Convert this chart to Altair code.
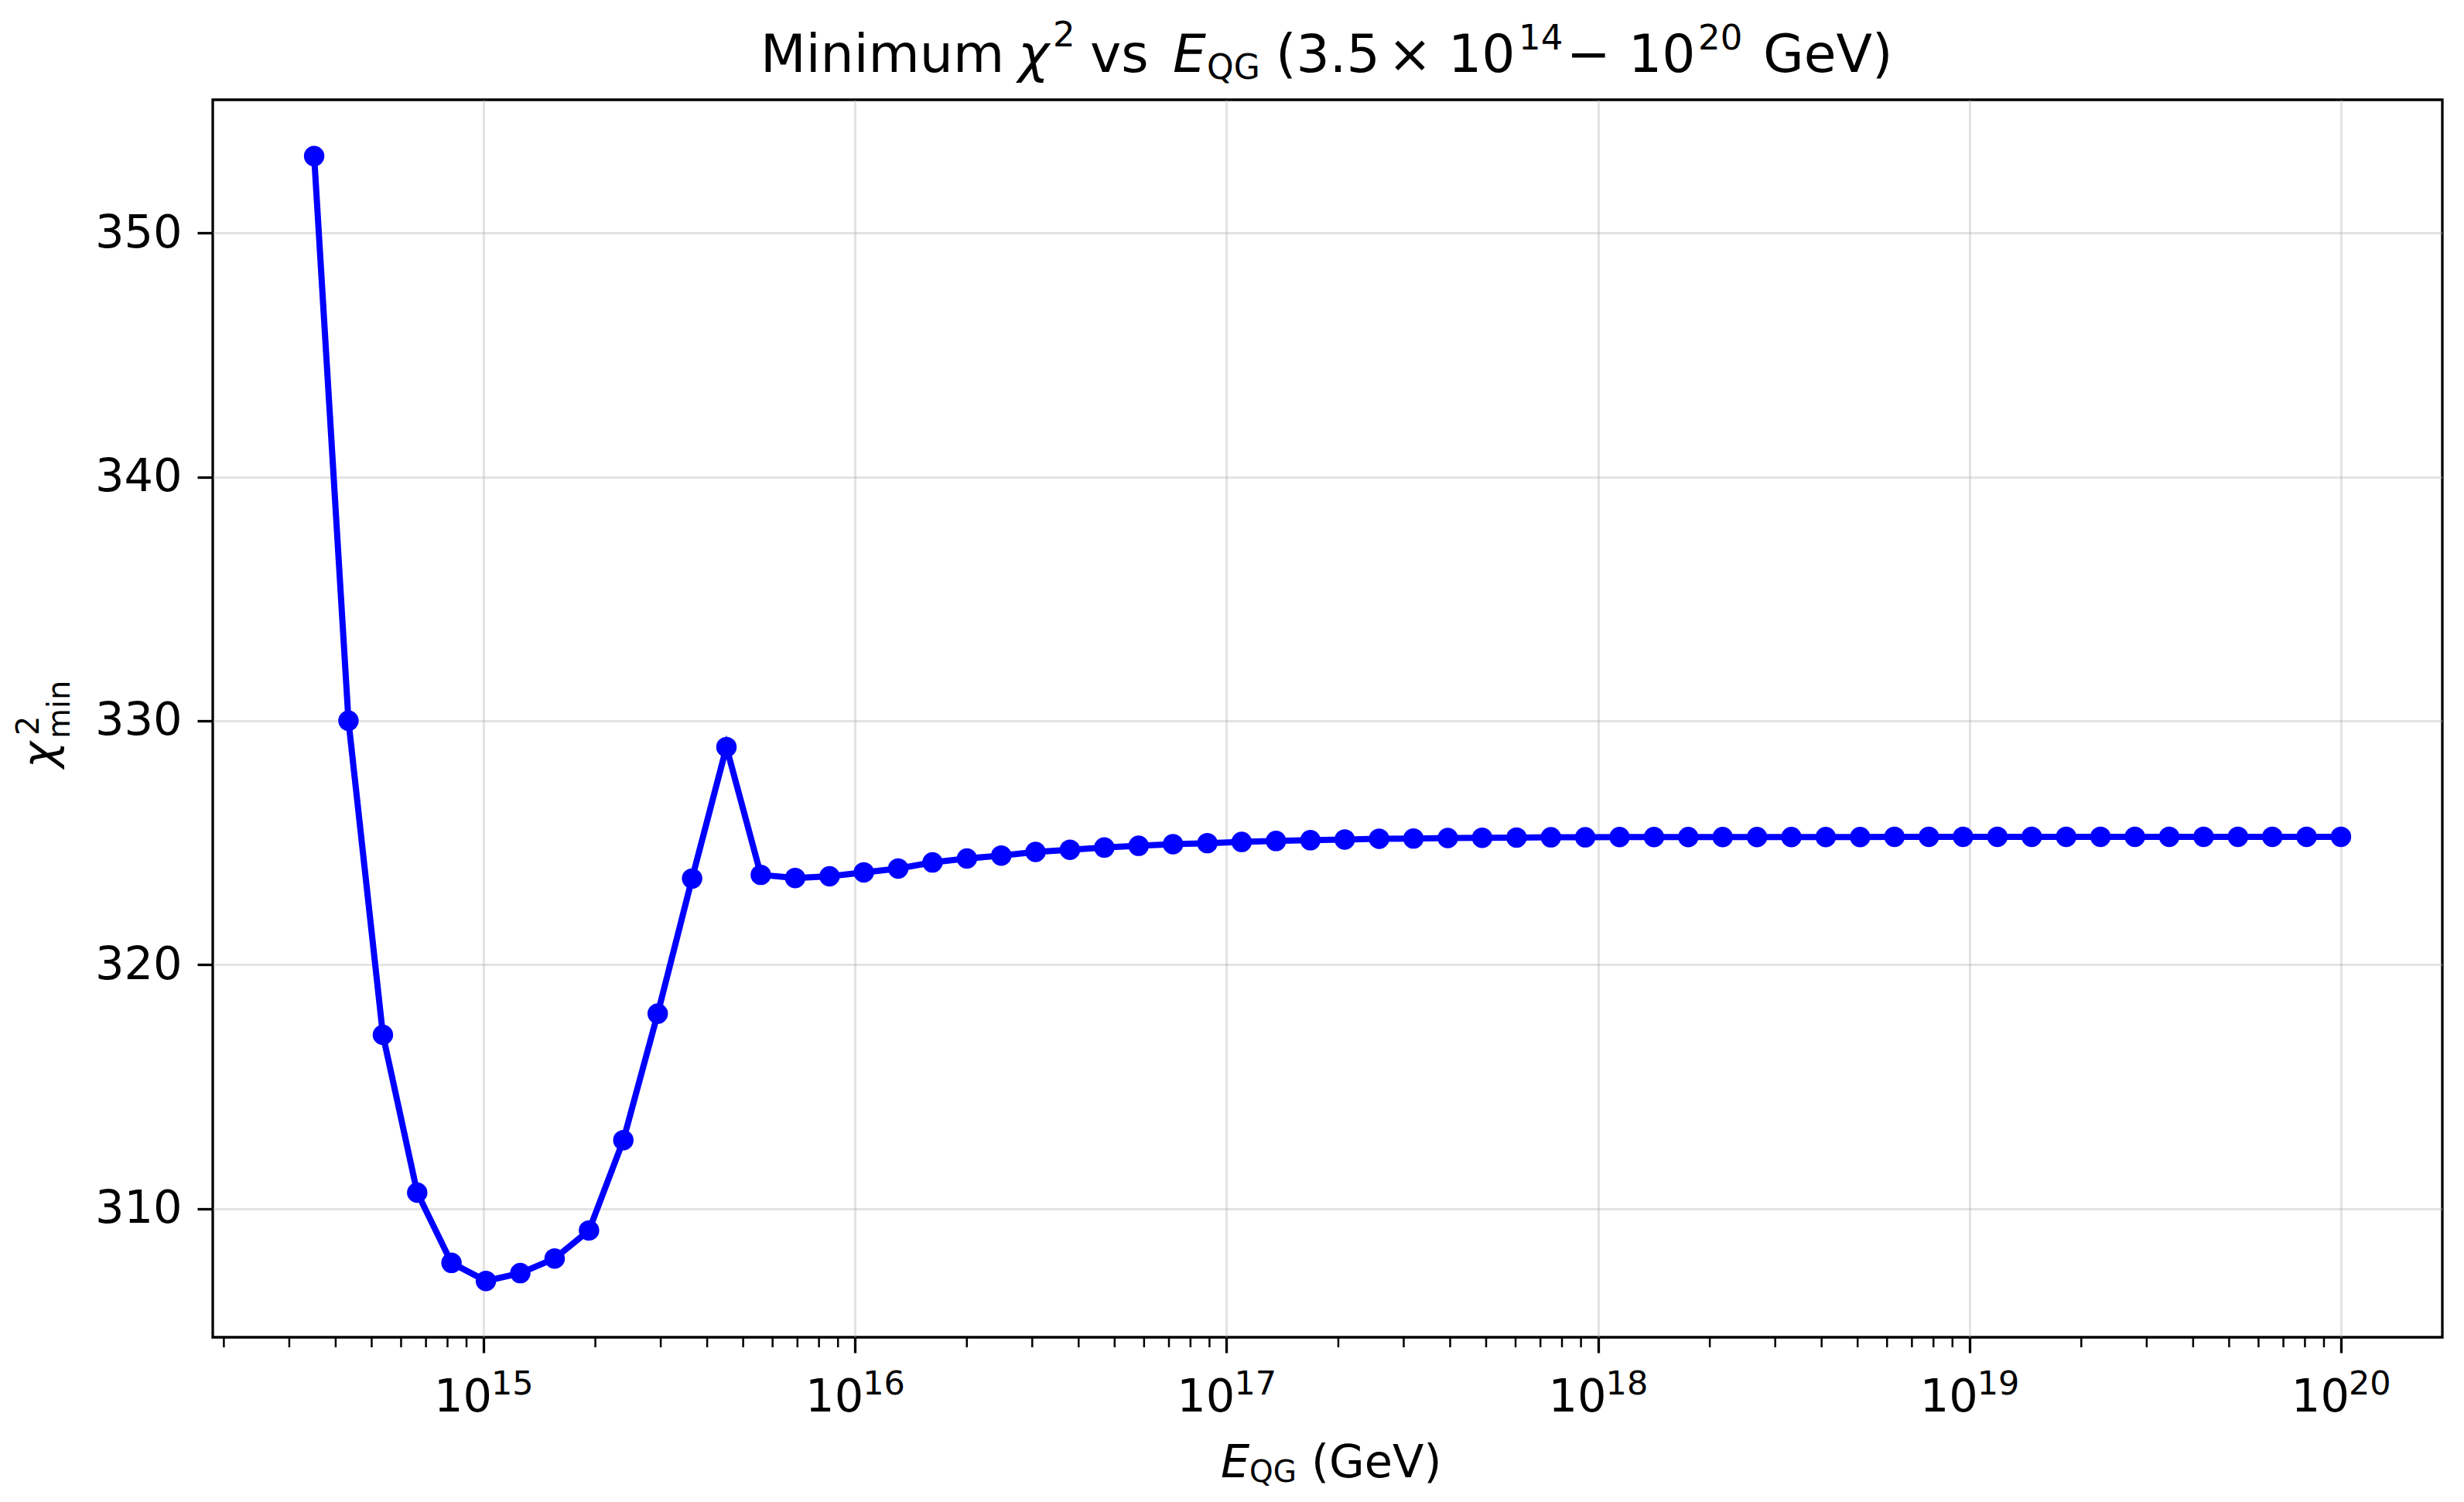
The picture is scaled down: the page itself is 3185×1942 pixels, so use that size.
import altair as alt
import pandas as pd

# ---- data ----
E_QG = [3.50e14, 4.33e14, 5.36e14, 6.63e14, 8.20e14, 1.015e15, 1.256e15, 1.554e15,
        1.923e15, 2.379e15, 2.944e15, 3.643e15, 4.507e15, 5.577e15, 6.901e15, 8.539e15,
        1.056e16, 1.307e16, 1.617e16, 2.001e16, 2.476e16, 3.062e16, 3.789e16, 4.689e16,
        5.801e16, 7.178e16, 8.880e16, 1.0985e17, 1.359e17, 1.682e17, 2.081e17, 2.575e17,
        3.186e17, 3.942e17, 4.878e17, 6.036e17, 7.469e17, 9.240e17, 1.143e18, 1.415e18,
        1.750e18, 2.166e18, 2.680e18, 3.316e18, 4.103e18, 5.077e18, 6.282e18, 7.773e18,
        9.611e18, 1.189e19, 1.471e19, 1.821e19, 2.253e19, 2.788e19, 3.449e19, 4.268e19,
        5.281e19, 6.535e19, 8.082e19, 1.0e20]
CHI2 = [353.15, 330.00, 317.12, 310.65, 307.77, 307.03, 307.35, 307.95,
        309.10, 312.80, 317.99, 323.53, 328.92, 323.68, 323.55, 323.62,
        323.78, 323.94, 324.19, 324.35, 324.47, 324.62, 324.71, 324.80,
        324.87, 324.94, 324.98, 325.03, 325.07, 325.10, 325.13, 325.16,
        325.17, 325.19, 325.20, 325.21, 325.22, 325.22, 325.23, 325.23,
        325.23, 325.23, 325.23, 325.23, 325.23, 325.23, 325.24, 325.24,
        325.24, 325.24, 325.24, 325.24, 325.24, 325.24, 325.24, 325.24,
        325.24, 325.24, 325.24, 325.24]

X_TICKS = [1e15, 1e16, 1e17, 1e18, 1e19, 1e20]
X_TICK_EXP = ["15", "16", "17", "18", "19", "20"]
Y_TICKS = [310, 320, 330, 340, 350]
MINOR_DECADES = [1e14, 1e15, 1e16, 1e17, 1e18, 1e19]
MINOR_MULT = [2, 3, 4, 5, 6, 7, 8, 9]

FONT = "DejaVu Sans"
W, H = 2882, 1600
BLUE = "#0000ff"

df = pd.DataFrame({"E": E_QG, "chi2": CHI2})
ticks_df = pd.DataFrame({"E": X_TICKS, "exp": X_TICK_EXP})
minor_df = pd.DataFrame({"E": [d * m for d in MINOR_DECADES for m in MINOR_MULT]})

xscale = alt.Scale(type="log", domain=[1.8669e14, 1.8746e20], nice=False)
yscale = alt.Scale(domain=[304.72, 355.46], nice=False, zero=False)

xenc = alt.X("E:Q", scale=xscale,
             axis=alt.Axis(values=X_TICKS, labels=False, title=None, domain=False,
                           tickSize=20, tickWidth=3.3, tickColor="black",
                           grid=True, gridColor="#b0b0b0", gridOpacity=0.35, gridWidth=3))
yenc = alt.Y("chi2:Q", scale=yscale,
             axis=alt.Axis(values=Y_TICKS, format="d", title=None, domain=False,
                           labelFont=FONT, labelFontSize=59, labelColor="black",
                           labelPadding=20,
                           tickSize=20, tickWidth=3.3, tickColor="black",
                           grid=True, gridColor="#b0b0b0", gridOpacity=0.35, gridWidth=3))

line = alt.Chart(df).mark_line(
    color=BLUE, strokeWidth=8,
    point=alt.OverlayMarkDef(filled=True, color=BLUE, size=700, opacity=1)
).encode(x=xenc, y=yenc)

minor = alt.Chart(minor_df).mark_rule(color="black", strokeWidth=2.5).encode(
    x=xenc, y=alt.value(H), y2=alt.value(H + 13))

tick10 = alt.Chart(ticks_df).mark_text(
    font=FONT, fontSize=59, align="right", baseline="alphabetic", dx=11, color="black"
).encode(x=xenc, y=alt.value(H + 96), text=alt.value("10"))
tickexp = alt.Chart(ticks_df).mark_text(
    font=FONT, fontSize=43, align="left", baseline="alphabetic", dx=10, color="black"
).encode(x=xenc, y=alt.value(H + 74), text="exp:N")


def piece(txt, x, y, size, italic=False, angle=0):
    kw = dict(font=FONT, fontSize=size, align="left", baseline="alphabetic", color="black")
    if italic:
        kw["fontStyle"] = "italic"
    if angle:
        kw["angle"] = angle
    return alt.Chart(alt.Data(values=[{}])).mark_text(**kw).encode(
        x=alt.value(x), y=alt.value(y), text=alt.value(txt))


OX, OY = 275, 129  # plot origin in the page
T_BASE, T_SUP, T_SUP2, T_SUB = 93, 60, 64, 102
TS, TSS = 68, 45
title_parts = [
    piece("Minimum", 983 - OX, T_BASE - OY, TS),
    piece("χ", 1316 - OX, T_BASE - OY, TS, italic=True),
    piece("2", 1361 - OX, T_SUP - OY, TSS),
    piece("vs", 1409 - OX, T_BASE - OY, TS),
    piece("E", 1516 - OX, T_BASE - OY, TS, italic=True),
    piece("QG", 1560 - OX, T_SUB - OY, 44),
    piece("(3.5", 1649 - OX, T_BASE - OY, TS),
    piece("×", 1794 - OX, T_BASE - OY, TS),
    piece("10", 1872 - OX, T_BASE - OY, TS),
    piece("14", 1963 - OX, T_SUP2 - OY, TSS),
    piece("−", 2025 - OX, T_BASE - OY, TS),
    piece("10", 2105 - OX, T_BASE - OY, TS),
    piece("20", 2195 - OX, T_SUP2 - OY, TSS),
    piece("GeV)", 2279 - OX, T_BASE - OY, TS),
]

xlabel_parts = [
    piece("E", 1578 - OX, 1910 - OY, 59, italic=True),
    piece("QG", 1615 - OX, 1916 - OY, 39),
    piece("(GeV)", 1695 - OX, 1910 - OY, 59),
]

ylabel_parts = [
    piece("χ", 71 - OX, 993 - OY, 58, italic=True, angle=270),
    piece("2", 50 - OX, 951 - OY, 40, angle=270),
    piece("min", 90 - OX, 955 - OY, 40, angle=270),
]

chart = alt.layer(
    minor, line, tick10, tickexp, *title_parts, *xlabel_parts, *ylabel_parts
).properties(
    width=W, height=H,
    autosize=alt.AutoSizeParams(type="none"),
    padding={"left": 267, "top": 121, "right": 10, "bottom": 202},
    background="white",
).configure_view(
    stroke="black", strokeWidth=3.3
)

chart.save("out.html", embed_options={"renderer": "svg", "actions": False})
